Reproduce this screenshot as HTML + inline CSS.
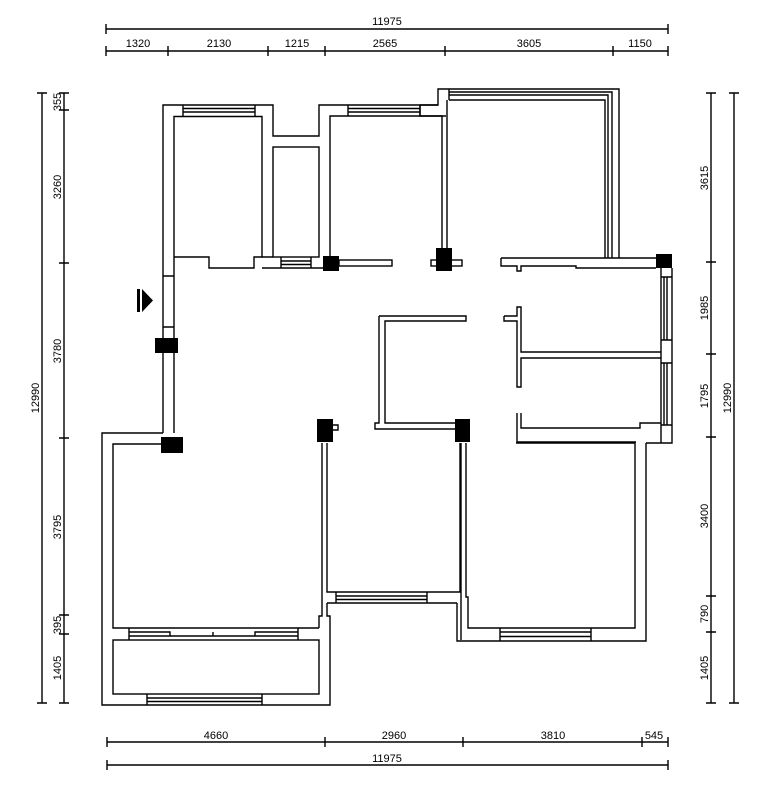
<!DOCTYPE html>
<html><head><meta charset="utf-8"><style>
html,body{margin:0;padding:0;background:#fff;width:767px;height:809px;overflow:hidden}
svg text{font-family:"Liberation Sans",sans-serif;font-size:11px;fill:#000}
</style></head><body>
<svg width="767" height="809" viewBox="0 0 767 809" xmlns="http://www.w3.org/2000/svg">
<g fill="none" stroke="#000" stroke-width="1.4">
<!-- dimension lines top -->
<line x1="106" y1="29" x2="668" y2="29"/>
<line x1="106" y1="51" x2="668" y2="51"/>
<path d="M106 24v10M668 24v10M106 46v10M168 46v10M268 46v10M325 46v10M445 46v10M613 46v10M668 46v10"/>
<!-- bottom -->
<line x1="107" y1="742" x2="668" y2="742"/>
<line x1="107" y1="765" x2="668" y2="765"/>
<path d="M107 737v10M325 737v10M463 737v10M642 737v10M668 737v10M107 760v10M668 760v10"/>
<!-- left -->
<line x1="42" y1="93" x2="42" y2="703"/>
<line x1="64" y1="93" x2="64" y2="703"/>
<path d="M37 93h10M37 703h10M59 93h10M59 110h10M59 263h10M59 438h10M59 615h10M59 634h10M59 703h10"/>
<!-- right -->
<line x1="711" y1="93" x2="711" y2="703"/>
<line x1="734" y1="93" x2="734" y2="703"/>
<path d="M706 93h10M706 262h10M706 354h10M706 437h10M706 596h10M706 632h10M706 703h10M729 93h10M729 703h10"/>

<!-- bedroom 1 (top-left) -->
<path d="M163 433V105H273V136H319V105H438V89H619V258"/>
<path d="M174 268V116.5H262V257H254V268H209V257H174"/>
<path d="M183 105v11M255 105v11M183 108.5h72M183 112h72"/>
<!-- closet -->
<rect x="273" y="147" width="46" height="110"/>
<path d="M262 257H273M262 268H323M281 257v11M311 257v11M281 261h30M281 264.5h30"/>
<!-- bedroom 2 -->
<path d="M330 256V116H442V248M447 248V100"/>
<path d="M348 105v11M420 105v11M348 108.5h72M348 112h72"/>
<rect x="339" y="260" width="53" height="6"/>
<!-- top right room -->
<path d="M420 105V116H446M420 105H438"/>
<path d="M449 92H612V258M449 95H608V258M449 100H605V258M449 89v11"/>
<rect x="431" y="260" width="31" height="6"/>
<path d="M501 258V266H517V271H521V266H576V268H656M501 258H656"/>
<!-- right rooms -->
<path d="M661 268V443M672 268V443H646M661 277h11M661 340h11M661 363h11M661 425h11M664 277v63M667 277v63M664 363v62M667 363v62"/>
<path d="M504 316H517V307H521V352H661M504 316v5h13v66h4V358H661"/>
<path d="M517 413V442H636M521 413V428H640V423H661"/>
<!-- right bedroom -->
<path d="M516 443H635V628H468V597H466V443M461 443V640M646 443V641H457V603"/>
<path d="M500 628v13M591 628v13M500 632h91M500 636.5h91"/>
<!-- middle closet -->
<path d="M379 316H466V321H385V423H455M379 316V423H375V429H455"/>
<!-- middle bedroom -->
<path d="M327 443V592H460V443M336 592v11M427 592v11M336 596h91M336 599.5h91M327 603H457"/>
<path d="M322 443V616H319V628M333 425h5v5h-5"/>
<!-- left wall / living -->
<path d="M174 268V433M163 276h11M163 327h11"/>
<path d="M163 433H102V705H330V616H327V603"/>
<path d="M183 444H113V628H319"/>
<rect x="113" y="640" width="206" height="54"/>
<path d="M129 628v12M298 628v12M129 632h41v4h85v-4h43M129 636h41M255 636h43M213 632v4"/>
<path d="M147 694v11M262 694v11M147 698h115M147 701.5h115"/>
</g>
<!-- columns -->
<g fill="#000">
<rect x="155" y="338" width="23" height="15"/>
<rect x="161" y="437" width="22" height="16"/>
<rect x="323" y="256" width="16" height="15"/>
<rect x="436" y="248" width="16" height="23"/>
<rect x="656" y="254" width="16" height="14"/>
<rect x="317" y="419" width="16" height="23"/>
<rect x="455" y="419" width="15" height="23"/>
<rect x="137" y="289" width="3" height="23"/>
<polygon points="142,289 153,300.5 142,312"/>
</g>
<!-- labels -->
<g text-anchor="middle">
<text x="387" y="25">11975</text>
<text x="138" y="47">1320</text>
<text x="219" y="47">2130</text>
<text x="297" y="47">1215</text>
<text x="385" y="47">2565</text>
<text x="529" y="47">3605</text>
<text x="640" y="47">1150</text>
<text x="216" y="739">4660</text>
<text x="394" y="739">2960</text>
<text x="553" y="739">3810</text>
<text x="654" y="739">545</text>
<text x="387" y="762">11975</text>
</g>
<g text-anchor="middle" font-size="11">
<text transform="translate(61,102) rotate(-90)">355</text>
<text transform="translate(61,187) rotate(-90)">3260</text>
<text transform="translate(61,351) rotate(-90)">3780</text>
<text transform="translate(61,527) rotate(-90)">3795</text>
<text transform="translate(61,625) rotate(-90)">395</text>
<text transform="translate(61,668) rotate(-90)">1405</text>
<text transform="translate(39,398) rotate(-90)">12990</text>
<text transform="translate(708,178) rotate(-90)">3615</text>
<text transform="translate(708,308) rotate(-90)">1985</text>
<text transform="translate(708,396) rotate(-90)">1795</text>
<text transform="translate(708,516) rotate(-90)">3400</text>
<text transform="translate(708,614) rotate(-90)">790</text>
<text transform="translate(708,668) rotate(-90)">1405</text>
<text transform="translate(731,398) rotate(-90)">12990</text>
</g>
</svg>
</body></html>
